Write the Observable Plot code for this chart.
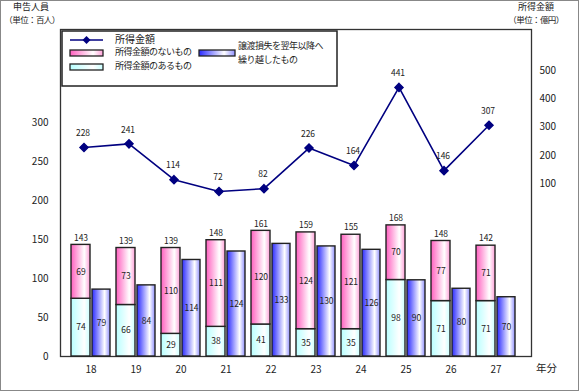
<!DOCTYPE html>
<html>
<head>
<meta charset="utf-8">
<script src="https://cdn.jsdelivr.net/npm/d3@7"></script>
<script src="https://cdn.jsdelivr.net/npm/@observablehq/plot@0.6"></script>
<style>
  html, body { margin: 0; padding: 0; background: #fff; }
  #chart { position: relative; width: 580px; height: 392px; }
  svg { display: block; }
</style>
</head>
<body>
<div id="chart"></div>
<script>
// ---- data ----
const years = ["18", "19", "20", "21", "22", "23", "24", "25", "26", "27"];
const withIncome = [74, 66, 29, 38, 41, 35, 35, 98, 71, 71];          // 所得金額のあるもの
const withoutIncome = [69, 73, 110, 111, 120, 124, 121, 70, 77, 71];  // 所得金額のないもの
const totals = [143, 139, 139, 148, 161, 159, 155, 168, 148, 142];    // 申告人員 合計
const lossCarry = [79, 84, 114, 124, 133, 130, 126, 90, 80, 70];      // 譲渡損失を翌年以降へ繰り越したもの
const incomeAmount = [228, 241, 114, 72, 82, 226, 164, 441, 146, 307]; // 所得金額（億円）
const leftTicks = [0, 50, 100, 150, 200, 250, 300];
const rightTicks = [100, 200, 300, 400, 500];

// secondary scales (mapped onto the left-axis units)
const LOSS_SCALE = 1.085;
const AMT_K = 0.3614, AMT_B = 185.4;
const amtToLeft = w => AMT_B + AMT_K * w;
const leftToAmt = v => Math.round((v - AMT_B) / AMT_K);

const rows = years.map((year, i) => ({
  year,
  have: withIncome[i],
  none: withoutIncome[i],
  top: withIncome[i] + withoutIncome[i],
  total: totals[i],
  loss: lossCarry[i],
  lossY: lossCarry[i] * LOSS_SCALE,
  amount: incomeAmount[i],
  amountY: amtToLeft(incomeAmount[i])
}));

const font = "'Noto Sans CJK JP', 'Noto Sans', sans-serif";
const stroke = "#222";

const plot = Plot.plot({
  width: 580,
  height: 392,
  marginLeft: 60,
  marginRight: 49,
  marginTop: 29,
  marginBottom: 36,
  style: { fontFamily: font, fontSize: "10px", color: "#222", background: "#fff" },
  x: { type: "band", domain: years, padding: 0, insetLeft: 7, insetRight: 13, label: null },
  y: { domain: [0, 419], label: null },
  marks: [
    Plot.frame({ stroke: "#333", strokeWidth: 1.3 }),
    // stacked bars
    Plot.barY(rows, { x: "year", y1: 0, y2: "have", fill: "url(#gCyan)", stroke, strokeWidth: 1.4, insetLeft: 3, insetRight: 23 }),
    Plot.barY(rows, { x: "year", y1: "have", y2: "top", fill: "url(#gPink)", stroke, strokeWidth: 1.4, insetLeft: 3, insetRight: 23 }),
    Plot.barY(rows, { x: "year", y1: 0, y2: "lossY", fill: "url(#gBlue)", stroke, strokeWidth: 1.4, insetLeft: 24, insetRight: 3 }),
    // bar labels
    Plot.text(rows, { x: "year", y: d => d.have / 2, text: "have", dx: -10, fontSize: 8.5, fill: "#222" }),
    Plot.text(rows, { x: "year", y: d => d.have + d.none / 2, text: "none", dx: -10, fontSize: 8.5, fill: "#222" }),
    Plot.text(rows, { x: "year", y: "top", text: "total", dx: -10, dy: -7, fontSize: 8.5, fill: "#222" }),
    Plot.text(rows, { x: "year", y: d => d.lossY / 2, text: "loss", dx: 10.5, fontSize: 8.5, fill: "#222" }),
    // line
    Plot.line(rows, { x: "year", y: "amountY", stroke: "#000080", strokeWidth: 1.6, dx: -7 }),
    Plot.dot(rows, { x: "year", y: "amountY", symbol: "diamond2", r: 3.6, fill: "#000080", stroke: "#000080", dx: -7 }),
    Plot.text(rows, { x: "year", y: "amountY", text: "amount", dx: -8, dy: -14, fontSize: 8.5, fill: "#222" }),
    // axes
    Plot.axisY({ anchor: "left", ticks: leftTicks, tickSize: 0, tickPadding: 12, label: null, fontSize: 10 }),
    Plot.axisY({ anchor: "right", ticks: rightTicks.map(amtToLeft), tickFormat: leftToAmt, tickSize: 0, tickPadding: 8, label: null, fontSize: 10 }),
    Plot.axisX({ tickSize: 0, tickPadding: 9, label: null, fontSize: 10 })
  ]
});

document.getElementById("chart").appendChild(plot);

// ---- decorations: gradients, legend, titles, outer border ----
const svg = d3.select(plot);
const defs = svg.insert("defs", ":first-child");
function grad(id, stops) {
  const g = defs.append("linearGradient").attr("id", id).attr("x1", "0%").attr("x2", "100%").attr("y1", "0%").attr("y2", "0%");
  stops.forEach(([o, c]) => g.append("stop").attr("offset", o).attr("stop-color", c));
}
grad("gPink", [["0%", "#ff5fbf"], ["70%", "#ffffff"], ["100%", "#ff9fd8"]]);
grad("gBlue", [["0%", "#2a2aff"], ["70%", "#ffffff"], ["100%", "#8f8fff"]]);
grad("gCyan", [["0%", "#b8ffff"], ["70%", "#ffffff"], ["100%", "#c8ffff"]]);

// outer border
svg.append("rect").attr("x", 0.5).attr("y", 0.5).attr("width", 578).attr("height", 390)
  .attr("fill", "none").attr("stroke", "#888").attr("stroke-width", 1);

const T = (x, y, s, anchor = "start", size = 9, ls = 0) =>
  svg.append("text").attr("x", x).attr("y", y).attr("text-anchor", anchor)
    .attr("dominant-baseline", "middle").attr("font-family", font).attr("font-size", size)
    .attr("letter-spacing", ls).attr("fill", "#222").text(s);

// axis titles
T(31, 8, "申告人員", "middle", 9);
T(32, 21, "（単位：百人）", "middle", 8.5, -0.6);
T(536, 8, "所得金額", "middle", 9);
T(536, 21, "（単位：億円）", "middle", 8.5, -0.6);
T(536, 369, "年分", "start", 10.5);

// legend
const lg = svg.append("g");
lg.append("rect").attr("x", 62).attr("y", 31).attr("width", 275).attr("height", 55)
  .attr("fill", "#fff").attr("stroke", "#222").attr("stroke-width", 1.5);
lg.append("line").attr("x1", 70).attr("x2", 103).attr("y1", 40).attr("y2", 40).attr("stroke", "#000080").attr("stroke-width", 1.6);
lg.append("path").attr("d", d3.symbol(d3.symbolDiamond2, 3.6 * 3.6 * Math.PI)()).attr("transform", "translate(86.5,40)").attr("fill", "#000080");
const sw = (x, y, w, f) => lg.append("rect").attr("x", x).attr("y", y).attr("width", w).attr("height", 6)
  .attr("fill", f).attr("stroke", "#222").attr("stroke-width", 1.3);
sw(70, 50, 33, "url(#gPink)");
sw(70, 64, 33, "url(#gCyan)");
sw(199, 50, 36, "url(#gBlue)");
T(115, 40, "所得金額", "start", 10);
T(115, 53, "所得金額のないもの", "start", 9, -0.5);
T(115, 67, "所得金額のあるもの", "start", 9, -0.5);
T(238, 47, "譲渡損失を翌年以降へ", "start", 9, -0.5);
T(238, 61, "繰り越したもの", "start", 9, -0.5);
</script>
</body>
</html>
